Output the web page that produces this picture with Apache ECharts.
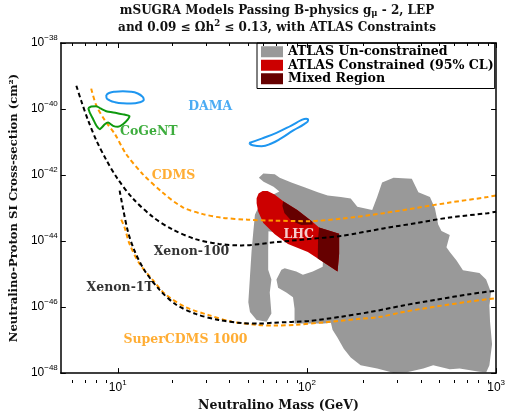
<!DOCTYPE html>
<html><head><meta charset="utf-8">
<script src="https://cdn.jsdelivr.net/npm/echarts@6/dist/echarts.min.js"></script>
<style>html,body{margin:0;padding:0;background:#fff}#c{width:508px;height:417px}</style>
</head><body><div id="c"></div>
<script>
// ---- axis ranges and ticks (GeV, cm^2) ----
const massRange = [5, 1000];
const sigmaRange = [1e-48, 1e-38];
const xLabelValues = [10, 100, 1000];
const yLabelValues = [1e-48, 1e-46, 1e-44, 1e-42, 1e-40, 1e-38];
const xMinorTicks = [6,7,8,9,20,30,40,50,60,70,80,90,200,300,400,500,600,700,800,900];

// ---- limit curves [mass GeV, sigma cm^2] ----
const cdms = [[7.24,4.15e-40],[7.69,1.31e-40],[8.57,4.44e-41],[9.67,1.72e-41],[11.04,4.44e-42],[13.55,1.07e-42],[17.25,2.96e-43],[21.95,1.07e-43],[27.9,6.67e-44],[35.6,5.08e-44],[48.6,4.44e-44],[67.4,4.15e-44],[101.5,4.01e-44],[151,4.74e-44],[253.6,6.98e-44],[382,1.02e-43],[569,1.47e-43],[899,2.15e-43],[1000,2.41e-43]];
const xenon100 = [[6.04,5.08e-40],[6.42,1.72e-40],[6.98,4.44e-41],[7.69,1.15e-41],[8.67,2.96e-42],[9.91,8.17e-43],[12.0,1.97e-43],[15.3,5.43e-44],[19.45,2.25e-44],[25.7,1.15e-44],[34.3,8.17e-45],[45.2,7.38e-45],[67.4,9.16e-45],[101.5,1.15e-44],[151,1.43e-44],[253.6,2.41e-44],[382,3.55e-44],[569,5.19e-44],[899,6.98e-44],[1000,7.78e-44]];
const xenon1T = [[10.23,3.38e-43],[10.65,1e-43],[11.31,1.97e-44],[12.26,5.08e-45],[13.83,1.31e-45],[16.6,3.38e-46],[20.2,1.22e-46],[25.8,6.22e-47],[34.2,4.06e-47],[45.2,3.27e-47],[55.5,3.16e-47],[67.4,3.38e-47],[101.5,3.79e-47],[151,5.08e-47],[217,7.13e-47],[323,1.12e-46],[486,1.68e-46],[724,2.46e-46],[979,3.10e-46]];
const superCDMS = [[10.43,4.44e-44],[10.87,2.58e-44],[11.54,8.17e-45],[13.0,2.11e-45],[15.3,6.67e-46],[17.9,2.41e-46],[22.8,1e-46],[30.3,5.70e-47],[40.1,3.62e-47],[54.2,2.90e-47],[67.4,2.76e-47],[87.8,2.90e-47],[123,3.45e-47],[185,4.35e-47],[245,5.08e-47],[323,7.13e-47],[486,1.05e-46],[724,1.47e-46],[979,1.84e-46]];

// ---- signal contours ----
const damaA = [[8.70,2.64e-40],[8.99,3.06e-40],[9.67,3.34e-40],[10.65,3.43e-40],[11.73,3.34e-40],[12.76,2.96e-40],[13.55,2.33e-40],[13.72,1.90e-40],[13.07,1.61e-40],[11.73,1.48e-40],[10.65,1.50e-40],[9.67,1.61e-40],[9.05,1.84e-40],[8.72,2.18e-40],[8.70,2.64e-40]];
const damaB = [[49.5,9.35e-42],[57.6,1.27e-41],[69.0,1.90e-41],[82.7,3.16e-41],[93.3,4.59e-41],[99.1,5.08e-41],[101.5,4.59e-41],[96.7,3.50e-41],[84.7,2.25e-41],[73.3,1.31e-41],[64.9,9.03e-42],[57.6,7.48e-42],[51.6,8.00e-42],[49.5,9.35e-42]];
const cogent = [[6.98,1.07e-40],[7.24,1.19e-40],[7.72,1.22e-40],[8.04,1.07e-40],[8.70,8.55e-41],[9.82,7.62e-41],[10.65,6.89e-41],[11.54,6.10e-41],[11.31,4.84e-41],[10.65,3.45e-41],[10.03,2.90e-41],[9.44,3.10e-41],[8.89,3.88e-41],[8.54,3.45e-41],[8.04,2.46e-41],[7.72,3.10e-41],[7.42,4.84e-41],[7.12,7.62e-41],[6.98,1.07e-40]];

// ---- mSUGRA regions ----
const atlasUnconstrained = [[55.7,8.34e-43],[58.8,1.12e-42],[67.6,1.05e-42],[71.8,8.34e-43],[82.7,5.94e-43],[97.0,4.23e-43],[114.1,3.01e-43],[128.7,2.41e-43],[151,2.15e-43],[170.4,1.93e-43],[184.7,1.09e-43],[221.3,8.73e-44],[235.1,2.15e-43],[249.6,5.94e-43],[287,8.34e-43],[358.5,7.78e-43],[388.3,3.01e-43],[447,2.15e-43],[474.8,9.80e-44],[494,3.16e-44],[514.5,2.01e-44],[569,1.53e-44],[546.5,6.53e-45],[569,4.66e-45],[616.5,2.64e-45],[668,1.31e-45],[816.5,1.07e-45],[885.5,6.79e-46],[940.5,2.76e-46],[921.5,1.12e-46],[929,3.62e-47],[952,7.48e-48],[921.5,1.72e-48],[887,1.07e-48],[816.5,1.09e-48],[641.5,1.37e-48],[569,1.31e-48],[465,1.72e-48],[412.3,1.37e-48],[337.6,1.07e-48],[286.1,1.03e-48],[235.1,1.37e-48],[192.2,1.72e-48],[170.4,2.96e-48],[156.6,5.43e-48],[145.2,1.17e-47],[136.6,2.07e-47],[133.9,3.38e-47],[123.0,3.16e-47],[86.0,3.16e-47],[86.0,8.91e-47],[84.4,1.97e-46],[77.8,2.76e-46],[70.4,3.88e-46],[69.0,6.79e-46],[73.3,1.34e-45],[76.3,1.50e-45],[87.8,1.20e-45],[95.2,9.53e-46],[107.4,1.20e-45],[121.2,1.68e-45],[121.6,2.96e-45],[82.7,1e-44],[68.2,1.84e-44],[62.6,1.97e-44],[62.4,5.19e-45],[62.4,1.34e-45],[64.9,6.79e-46],[63.6,2.76e-46],[64.9,6.35e-47],[61.2,3.62e-47],[54.2,4.06e-47],[50.0,7.13e-47],[49.0,1.40e-46],[50.0,8.55e-46],[51.0,5.19e-45],[52.1,2.01e-44],[53.1,6.22e-44],[55.5,1.07e-43],[64.9,2.41e-43],[71.5,3.16e-43],[66.6,4.44e-43],[59.0,6.22e-43]];
const atlasConstrained = [[54.2,1.97e-43],[55.5,2.76e-43],[58.3,3.27e-43],[61.9,3.27e-43],[67.4,2.58e-43],[75.0,1.61e-43],[88.9,8.73e-44],[106.5,3.88e-44],[115.9,2.58e-44],[148,1.66e-44],[148,4.15e-45],[145.2,1.20e-45],[114.1,2.96e-45],[101.1,4.66e-45],[79.4,8.17e-45],[67.6,1.61e-44],[58.8,3.55e-44],[55.3,7.78e-44],[54.2,1.40e-43]];
const mixedA = [[74.8,1.61e-43],[88.9,8.73e-44],[106.5,3.88e-44],[107.4,3.16e-44],[93.3,3.05e-44],[82.7,4.15e-44],[76.0,7.13e-44],[74.2,1.15e-43]];
const mixedB = [[115.9,2.58e-44],[148,1.66e-44],[148,4.15e-45],[145.2,1.20e-45],[114.1,2.96e-45],[114.5,1.15e-44]];

// ---- text annotations ----
const labelNames = ['DAMA','CoGeNT','CDMS','Xenon-100','Xenon-1T','SuperCDMS 1000','LHC'];
const labelPositions = [[30.8,1.15e-40],[14.6,2.04e-41],[19.7,9.66e-43],[24.5,4.74e-45],[10.3,3.88e-46],[22.8,1.03e-47],[90.5,1.50e-44]];

// ---- styles ----
const C = {gray:'#999999', red:'#cc0000', dark:'#660000', orange:'#ff9900', black:'#000000', dama:'#1e96f0', cogent:'#0e990e'};
const labelColors = [C.dama, C.cogent, C.orange, '#000', '#000', C.orange, '#ffffff'];
const SERIF = '"DejaVu Serif", serif';
const SANS = '"Liberation Sans", Arial, sans-serif';

const L = p => [Math.log10(p[0]), Math.log10(p[1])];
const lg = v => Math.log10(v);
const xMin = lg(massRange[0]), xMax = lg(massRange[1]);
const yMin = lg(sigmaRange[0]), yMax = lg(sigmaRange[1]);

function powLabel(v) {
  const e = Math.round(v);
  return '{b|10}{e|' + (e < 0 ? '\u2212' + (-e) : e) + '}';
}
const richLab = {
  b: {fontSize: 12, fontFamily: SANS, color: '#000'},
  e: {fontSize: 8, fontFamily: SANS, color: '#000', padding: [0, 0, 10, 0]}
};

function polySeries(name, pts, color, z) {
  return {
    type: 'custom', name, xAxisIndex: 0, yAxisIndex: 0, z, silent: true, clip: true,
    itemStyle: {color},
    data: [[0]],
    renderItem: (params, api) => ({
      type: 'polygon',
      shape: {points: pts.map(p => api.coord(L(p)))},
      style: {fill: color}
    })
  };
}
function dashSeries(name, pts, color) {
  return {
    type: 'line', name, data: pts.map(L), xAxisIndex: 0, yAxisIndex: 0, silent: true,
    showSymbol: false, symbol: 'none', smooth: 0.3, z: 6,
    lineStyle: {color, width: 2, type: [4.5, 3]}
  };
}
function contourSeries(name, pts, color, smooth) {
  return {
    type: 'line', name, data: pts.map(L), xAxisIndex: 0, yAxisIndex: 0, silent: true,
    showSymbol: false, symbol: 'none', smooth, z: 6,
    lineStyle: {color, width: 2}
  };
}

const grid = {left: 57, top: 43, width: 440, height: 340, containLabel: false};
const baseX = {type: 'value', min: xMin, max: xMax, splitLine: {show: false}, z: 8};
const baseY = {type: 'value', min: yMin, max: yMax, splitLine: {show: false}, z: 8};
const axLine = {show: true, lineStyle: {color: '#000', width: 1.5}};

const option = {
  animation: false,
  backgroundColor: '#fff',
  title: {
    text: 'mSUGRA Models Passing B-physics g{s|\u03bc} - 2, LEP\nand 0.09 \u2264 \u03a9h{p|2} \u2264 0.13, with ATLAS Constraints',
    left: 277, top: 2, padding: 0, textAlign: 'center',
    textStyle: {
      fontFamily: SERIF, fontWeight: 'bold', fontSize: 12, lineHeight: 17, color: '#111',
      rich: {
        s: {fontFamily: SERIF, fontWeight: 'bold', fontSize: 8.5, padding: [6, 0, 0, 0], color: '#111'},
        p: {fontFamily: SERIF, fontWeight: 'bold', fontSize: 8.5, padding: [0, 0, 7, 0], color: '#111'}
      }
    }
  },
  legend: {
    orient: 'vertical', left: 257, top: 43, padding: [2, 1, 3, 4], itemGap: 0,
    itemWidth: 22, itemHeight: 11, icon: 'rect', selectedMode: false,
    backgroundColor: '#fff', borderColor: '#000', borderWidth: 1, borderRadius: 0,
    textStyle: {fontFamily: SERIF, fontWeight: 'bold', fontSize: 12.6, color: '#000', lineHeight: 13.5},
    data: ['ATLAS Un-constrained', 'ATLAS Constrained (95% CL)', 'Mixed Region']
  },
  grid: [grid, Object.assign({}, grid)],
  xAxis: [
    Object.assign({}, baseX, {gridIndex: 0, position: 'bottom', axisLine: axLine,
      axisTick: {show: true, inside: true, length: 5, customValues: xLabelValues.map(lg), lineStyle: {color: '#000'}},
      axisLabel: {show: true, margin: 6, customValues: xLabelValues.map(lg), formatter: powLabel, rich: richLab},
      name: 'Neutralino Mass (GeV)', nameLocation: 'middle', nameGap: 16,
      nameTextStyle: {fontFamily: SERIF, fontWeight: 'bold', fontSize: 12.5, color: '#111'}}),
    Object.assign({}, baseX, {gridIndex: 0, position: 'top', axisLine: axLine,
      axisTick: {show: true, inside: true, length: 5, customValues: xLabelValues.map(lg), lineStyle: {color: '#000'}},
      axisLabel: {show: false}}),
    Object.assign({}, baseX, {gridIndex: 1, position: 'bottom', axisLine: {show: false},
      axisTick: {show: true, inside: true, length: 3, customValues: xMinorTicks.map(lg), lineStyle: {color: '#000'}},
      axisLabel: {show: false}}),
    Object.assign({}, baseX, {gridIndex: 1, position: 'top', axisLine: {show: false},
      axisTick: {show: true, inside: true, length: 3, customValues: xMinorTicks.map(lg), lineStyle: {color: '#000'}},
      axisLabel: {show: false}})
  ],
  yAxis: [
    Object.assign({}, baseY, {gridIndex: 0, position: 'left', axisLine: axLine,
      axisTick: {show: true, inside: true, length: 5, customValues: yLabelValues.map(lg), lineStyle: {color: '#000'}},
      axisLabel: {show: true, margin: 3, customValues: yLabelValues.map(lg), formatter: powLabel, rich: richLab},
      name: 'Neutralino-Proton SI Cross-section (cm\u00b2)', nameLocation: 'middle', nameGap: 33,
      nameTextStyle: {fontFamily: SERIF, fontWeight: 'bold', fontSize: 11.6, color: '#111'}}),
    Object.assign({}, baseY, {gridIndex: 0, position: 'right', axisLine: axLine,
      axisTick: {show: true, inside: true, length: 5, customValues: yLabelValues.map(lg), lineStyle: {color: '#000'}},
      axisLabel: {show: false}}),
    Object.assign({}, baseY, {gridIndex: 1, show: false}),
    Object.assign({}, baseY, {gridIndex: 1, show: false, position: 'right'})
  ],
  series: [
    polySeries('ATLAS Un-constrained', atlasUnconstrained, C.gray, 2),
    polySeries('ATLAS Constrained (95% CL)', atlasConstrained, C.red, 3),
    polySeries('Mixed Region', mixedA, C.dark, 4),
    polySeries('Mixed Region', mixedB, C.dark, 4),
    dashSeries('CDMS', cdms, C.orange),
    dashSeries('SuperCDMS 1000', superCDMS, C.orange),
    dashSeries('Xenon-100', xenon100, C.black),
    dashSeries('Xenon-1T', xenon1T, C.black),
    contourSeries('DAMA a', damaA, C.dama, 0.5),
    contourSeries('DAMA b', damaB, C.dama, 0.5),
    contourSeries('CoGeNT', cogent, C.cogent, 0.15),
    {
      type: 'scatter', name: 'labels', xAxisIndex: 0, yAxisIndex: 0, symbolSize: 0, z: 9, silent: true,
      data: labelNames.map((n, i) => ({value: L(labelPositions[i]), name: n, label: {color: labelColors[i]}})),
      label: {show: true, position: 'inside', formatter: '{b}', fontFamily: SERIF, fontWeight: 'bold', fontSize: 12.5}
    }
  ]
};
const chart = echarts.init(document.getElementById('c'), null, {renderer: 'canvas'});
chart.setOption(option);
</script>
</body></html>
